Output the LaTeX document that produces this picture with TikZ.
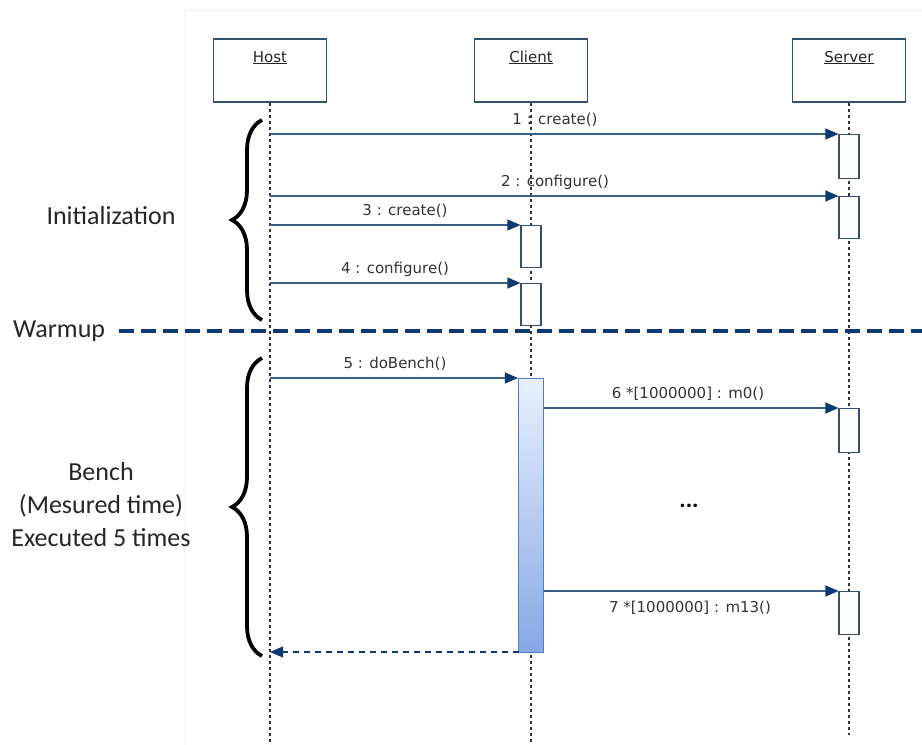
\documentclass[tikz,border=0pt]{standalone}
\usepackage{fontspec}
\setmainfont{DejaVu Sans}
\newfontfamily\calib{Carlito}
\usetikzlibrary{arrows.meta,decorations.pathreplacing}
\definecolor{navy}{HTML}{0E3A73}
\definecolor{msgc}{HTML}{3C5F87}
\definecolor{boxc}{HTML}{33506E}
\definecolor{lifec}{HTML}{333333}
\definecolor{barTop}{HTML}{E9F0FC}
\definecolor{barBot}{HTML}{86A8E6}
\definecolor{barEdge}{HTML}{4F7FC6}
\tikzset{
  x=1pt, y=-1pt,
  headbox/.style={draw=boxc, line width=1.2pt, fill=white, minimum width=113pt, minimum height=63pt, inner sep=0pt},
  headtxt/.style={font=\fontsize{15}{17}\selectfont, text=black!85},
  actbox/.style={draw=boxc, line width=1.1pt, fill=white, minimum width=20pt, inner sep=0pt, anchor=north},
  lifeline/.style={lifec, line width=1.3pt, dash pattern=on 3pt off 3pt},
  msg/.style={msgc, line width=1.2pt, -{Triangle[length=13pt,width=11pt,fill=navy,color=navy]}},
  retmsg/.style={navy, line width=1.2pt, dash pattern=on 6pt off 5pt, -{Triangle[length=13pt,width=11pt,fill=navy,color=navy]}},
  lbl/.style={font=\fontsize{15}{17}\selectfont, text=black!80, inner sep=1pt},
  sidetxt/.style={font=\calib\fontsize{26}{33}\selectfont, text=black!85, align=center},
  bracestyle/.style={black, line width=3.8pt, decorate, decoration={brace, amplitude=30pt, aspect=0.5}},
  phase/.style={navy, line width=3.6pt, dash pattern=on 15pt off 7pt}
}
\begin{document}
\begin{tikzpicture}
\useasboundingbox (0,0) rectangle (922,745);
\fill[white] (0,0) rectangle (922,745);
\draw[black!6, line width=1pt] (184,10) -- (922,10);
\draw[black!6, line width=1pt] (184,10) -- (184,745);

% lifeline heads
\node[headbox] (host) at (270,70.5) {};
\node[headbox] (client) at (531,70.5) {};
\node[headbox] (server) at (849,70.5) {};
\node[headtxt, anchor=base] (hostt) at (270,62) {\underline{Host}};
\node[headtxt, anchor=base] (clientt) at (531,62) {\underline{Client}};
\node[headtxt, anchor=base] (servert) at (849,62) {\underline{Server}};

% lifeline ends
\coordinate (hostend) at (270,745);
\coordinate (clientend) at (531,742);
\coordinate (serverend) at (849,735);
\draw[lifeline] (host.south) -- (hostend);
\draw[lifeline] (client.south) -- (clientend);
\draw[lifeline] (server.south) -- (serverend);

% activation boxes
\node[actbox, minimum height=44pt] (s1) at (849,134) {};
\node[actbox, minimum height=42pt] (s2) at (849,196) {};
\node[actbox, minimum height=42pt] (c1) at (531,225) {};
\node[actbox, minimum height=42pt] (c2) at (531,283) {};
\node[draw=barEdge, line width=1.1pt, top color=barTop, bottom color=barBot, minimum width=25pt, minimum height=274pt, inner sep=0pt, anchor=north] (bar) at (531,378) {};
\node[actbox, minimum height=44pt] (s3) at (849,408) {};
\node[actbox, minimum height=43pt] (s4) at (849,591) {};

% message sources on host lifeline
\coordinate (h1) at (270,134);
\coordinate (h2) at (270,196);
\coordinate (h3) at (270,225);
\coordinate (h4) at (270,283);
\coordinate (h5) at (270,378);
\coordinate (h6) at (270,652);
\coordinate (b6) at (543.5,408);
\coordinate (b7) at (543.5,591);
\coordinate (b8) at (518.5,652);

\draw[msg] (h1) -- (s1.north west);
\draw[msg] (h2) -- (s2.north west);
\draw[msg] (h3) -- (c1.north west);
\draw[msg] (h4) -- (c2.north west);
\draw[msg] (h5) -- (bar.north west);
\draw[msg] (b6) -- (s3.north west);
\draw[msg] (b7) -- (s4.north west);
\draw[retmsg] (b8) -- (h6);

% labels
\node[lbl] (l1) at (555,120) {1 : create()};
\node[lbl] (l2) at (555,182) {2 : configure()};
\node[lbl] (l3) at (405,211) {3 : create()};
\node[lbl] (l4) at (395,269) {4 : configure()};
\node[lbl] (l5) at (395,364) {5 : doBench()};
\node[lbl] (l6) at (688,394) {6 *[1000000] : m0()};
\node[lbl] (l7) at (690,608) {7 *[1000000] : m13()};
\node[font=\calib\fontsize{24}{26}\selectfont\bfseries] (dots) at (689,506) {...};

% warmup divider
\node[sidetxt, anchor=west, inner sep=0pt] (warm) at (13,331) {Warmup};
\coordinate (warmend) at (922,331);
\draw[phase] (warm.east) ++(14,0) coordinate (warmstart) -- (warmend);

% braces
\coordinate (i1) at (262,320);
\coordinate (i2) at (262,120);
\coordinate (bb1) at (262,656);
\coordinate (bb2) at (262,358);
\draw[bracestyle] (i1) -- (i2);
\draw[bracestyle] (bb1) -- (bb2);
\node[sidetxt] (init) at (111,216) {Initialization};
\node[sidetxt] (bench) at (101,505) {Bench\\(Mesured time)\\Executed 5 times};
\end{tikzpicture}
\end{document}
